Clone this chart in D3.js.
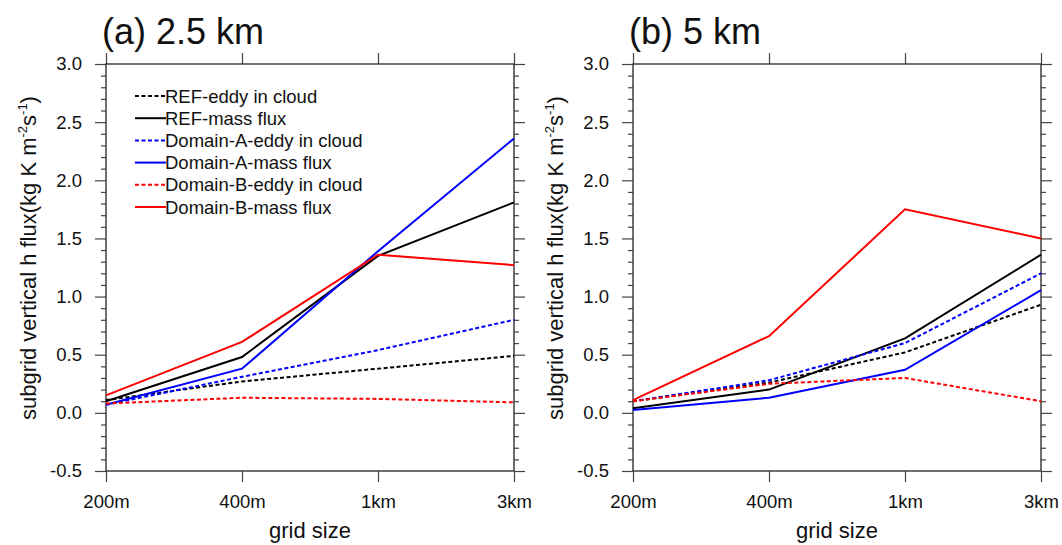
<!DOCTYPE html>
<html>
<head>
<meta charset="utf-8">
<script src="https://cdn.jsdelivr.net/npm/d3@7"></script>
<style>
  body { margin: 0; background: #fff; }
  text { font-family: "Liberation Sans", Arial, Helvetica, sans-serif; fill: #111; }
</style>
</head>
<body>
<div id="chart"></div>
<script>
// categories and ticks
var gridSizes = ["200m", "400m", "1km", "3km"];
var yTickValues = [-0.5, 0.0, 0.5, 1.0, 1.5, 2.0, 2.5, 3.0];
var seriesNames = ["REF-eddy in cloud", "REF-mass flux", "Domain-A-eddy in cloud",
                   "Domain-A-mass flux", "Domain-B-eddy in cloud", "Domain-B-mass flux"];

// (a) 2.5 km
var a_refEddy  = [0.11, 0.27, 0.38, 0.49];
var a_refMass  = [0.10, 0.48, 1.35, 1.81];
var a_domAEddy = [0.07, 0.31, 0.54, 0.80];
var a_domAMass = [0.07, 0.38, 1.39, 2.36];
var a_domBEddy = [0.08, 0.13, 0.12, 0.09];
var a_domBMass = [0.15, 0.61, 1.36, 1.27];

// (b) 5 km
var b_refEddy  = [0.10, 0.26, 0.52, 0.93];
var b_refMass  = [0.04, 0.20, 0.64, 1.36];
var b_domAEddy = [0.10, 0.28, 0.60, 1.20];
var b_domAMass = [0.025, 0.13, 0.37, 1.055];
var b_domBEddy = [0.10, 0.25, 0.30, 0.10];
var b_domBMass = [0.11, 0.66, 1.75, 1.50];

var seriesStyle = [
  {color: "#000", dash: "4,2.5"},
  {color: "#000", dash: null},
  {color: "#0000ff", dash: "4,2.5"},
  {color: "#0000ff", dash: null},
  {color: "#ff0000", dash: "4,2.5"},
  {color: "#ff0000", dash: null}
];

var W = 1062, H = 545;
var svg = d3.select("#chart").append("svg")
    .attr("width", W)
    .attr("height", H);

var panels = [
  {title: "(a) 2.5 km", left: 106, series: [a_refEddy, a_refMass, a_domAEddy, a_domAMass, a_domBEddy, a_domBMass], legend: true},
  {title: "(b) 5 km", left: 633, series: [b_refEddy, b_refMass, b_domAEddy, b_domAMass, b_domBEddy, b_domBMass], legend: false}
];

var plotTop = 64, pw = 408, ph = 407;

panels.forEach(function(p) {
  var g = svg.append("g").attr("transform", "translate(" + p.left + "," + plotTop + ")");

  var x = d3.scalePoint().domain(gridSizes).range([0, pw]);
  var y = d3.scaleLinear().domain([-0.5, 3.0]).range([ph, 0]);

  var minor = d3.range(-5, 31).map(function(i) { return i / 10; })
      .filter(function(v) { return Math.round(v * 10) % 5 !== 0; });

  // minor ticks, left and right
  g.append("g").call(d3.axisLeft(y).tickValues(minor).tickSize(5).tickFormat(""))
    .call(styleAxis);
  g.append("g").attr("transform", "translate(" + pw + ",0)")
    .call(d3.axisRight(y).tickValues(minor).tickSize(5).tickFormat(""))
    .call(styleAxis);

  // major ticks
  var yAxis = g.append("g")
    .call(d3.axisLeft(y).tickValues(yTickValues).tickSize(11).tickPadding(13)
      .tickFormat(function(d) { return d3.format(".1f")(d).replace("−", "-"); }))
    .call(styleAxis);
  yAxis.selectAll("text").style("font-size", "18.5px");

  g.append("g").attr("transform", "translate(" + pw + ",0)")
    .call(d3.axisRight(y).tickValues(yTickValues).tickSize(11).tickFormat(""))
    .call(styleAxis);

  var xAxis = g.append("g").attr("transform", "translate(0," + ph + ")")
    .call(d3.axisBottom(x).tickSize(11).tickPadding(13))
    .call(styleAxis);
  xAxis.selectAll("text").style("font-size", "18.5px");

  g.append("g")
    .call(d3.axisTop(x).tickSize(11).tickFormat(""))
    .call(styleAxis);

  // frame
  g.append("rect")
    .attr("width", pw).attr("height", ph)
    .attr("fill", "none").attr("stroke", "#333").attr("stroke-width", 1.4);

  // lines
  var line = d3.line()
    .x(function(d, i) { return x(gridSizes[i]); })
    .y(function(d) { return y(d); });

  p.series.forEach(function(s, i) {
    g.append("path")
      .datum(s)
      .attr("d", line)
      .attr("fill", "none")
      .attr("stroke", seriesStyle[i].color)
      .attr("stroke-width", 2)
      .attr("stroke-dasharray", seriesStyle[i].dash);
  });

  // title
  svg.append("text")
    .attr("x", p.left - 4).attr("y", 44)
    .style("font-size", "36px")
    .text(p.title);

  // axis titles
  svg.append("text")
    .attr("x", p.left + pw / 2).attr("y", 538)
    .attr("text-anchor", "middle")
    .style("font-size", "22px")
    .text("grid size");

  var yl = svg.append("text")
    .attr("transform", "translate(" + (p.left - 70) + ",258) rotate(-90)")
    .attr("text-anchor", "middle")
    .style("font-size", "22px");
  yl.append("tspan").text("subgrid vertical h flux(kg K m");
  yl.append("tspan").attr("dy", -9).style("font-size", "13px").text("-2");
  yl.append("tspan").attr("dy", 9).text("s");
  yl.append("tspan").attr("dy", -9).style("font-size", "13px").text("-1");
  yl.append("tspan").attr("dy", 9).text(")");

  // legend
  if (p.legend) {
    var lg = g.append("g").attr("transform", "translate(29,32)");
    seriesNames.forEach(function(name, i) {
      var row = lg.append("g").attr("transform", "translate(0," + (i * 22.2) + ")");
      row.append("line")
        .attr("x1", 0).attr("x2", 31)
        .attr("stroke", seriesStyle[i].color)
        .attr("stroke-width", 2)
        .attr("stroke-dasharray", seriesStyle[i].dash);
      row.append("text")
        .attr("x", 30).attr("y", 6.5)
        .style("font-size", "18.5px")
        .text(name);
    });
  }
});

function styleAxis(sel) {
  sel.select(".domain").remove();
  sel.selectAll(".tick line").attr("stroke", "#444").attr("stroke-width", 1.2);
}
</script>
</body>
</html>
